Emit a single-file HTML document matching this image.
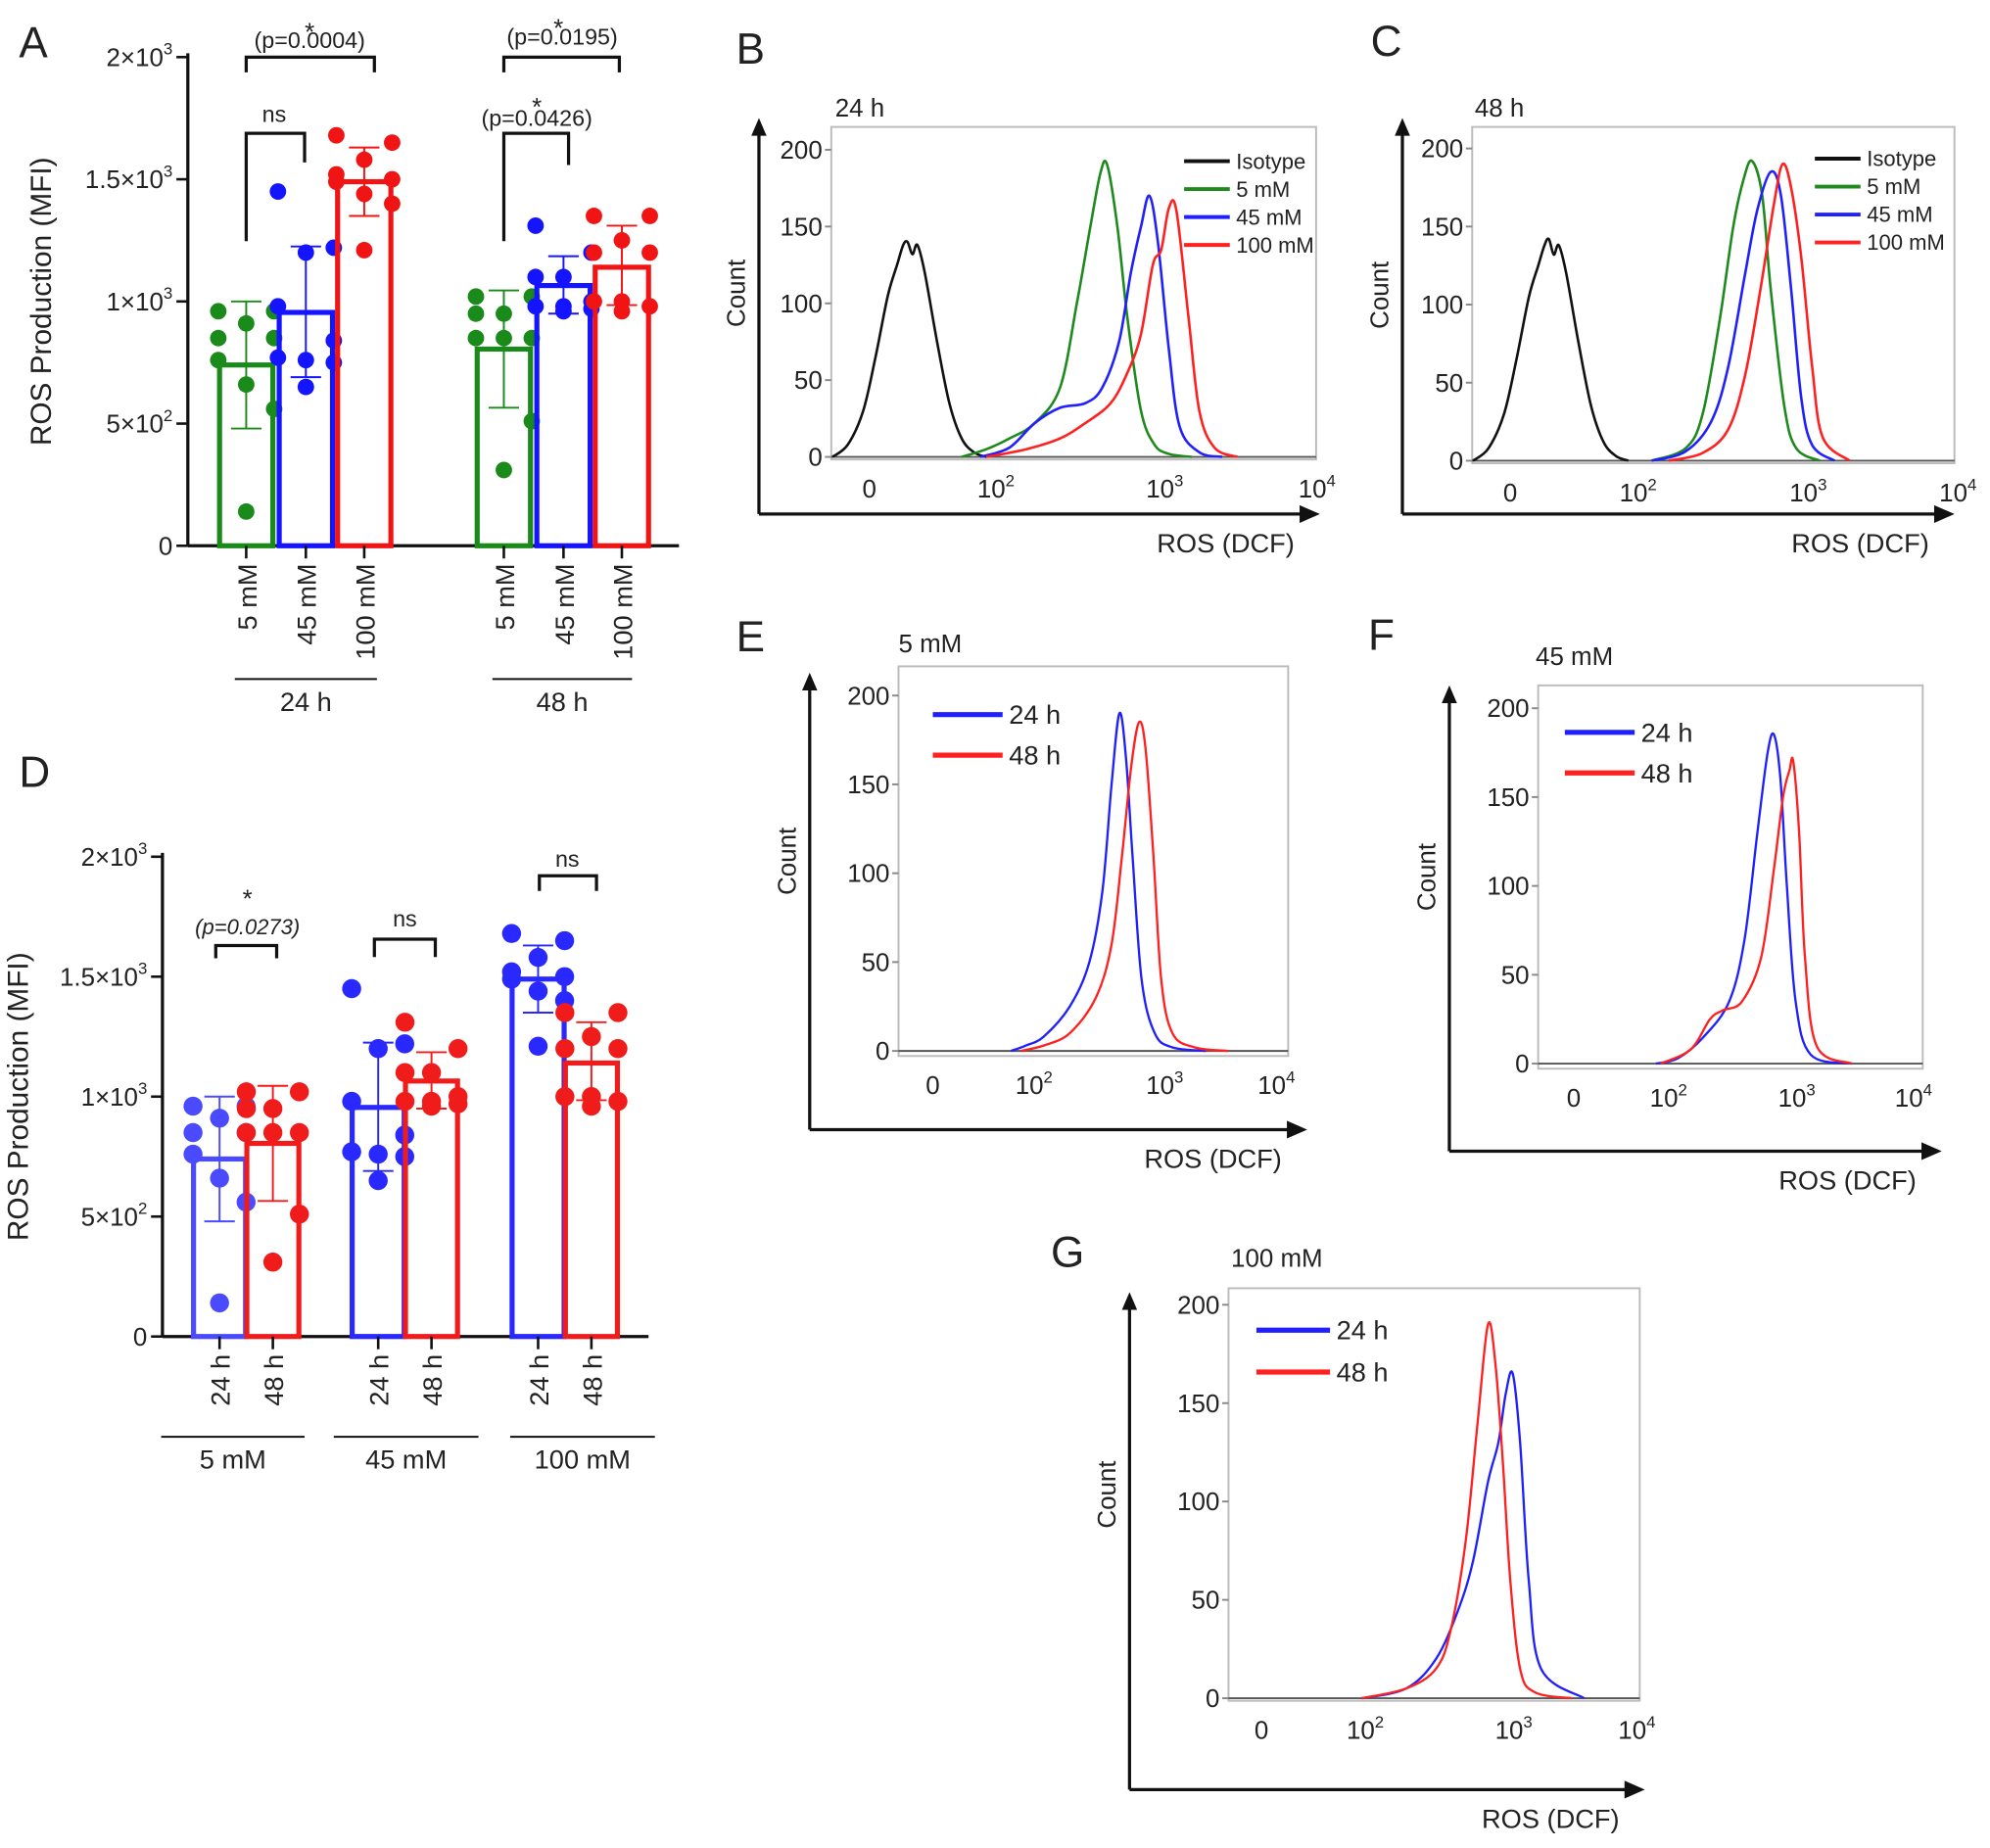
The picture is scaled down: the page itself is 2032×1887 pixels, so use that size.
<!DOCTYPE html>
<html><head><meta charset="utf-8"><style>
html,body{margin:0;padding:0;background:#fff}
svg{display:block;font-family:"Liberation Sans",sans-serif}
</style></head><body>
<svg id="fig" width="2032" height="1887" viewBox="0 0 1568 1456" preserveAspectRatio="none" xmlns="http://www.w3.org/2000/svg"></svg>
<script>
// ---------- Bar chart data (panels A & D) ----------
const concLabels = ["5 mM","45 mM","100 mM"];
const timeLabels = ["24 h","48 h"];
const mean24 = [740, 955, 1490];
const mean48 = [805, 1065, 1140];
const sdLo24 = [480, 690, 1350];
const sdHi24 = [1000, 1225, 1630];
const sdLo48 = [565, 950, 985];
const sdHi48 = [1045, 1185, 1310];
const pts24_5 = [960,960,910,850,850,760,660,560,140];
const pts24_45 = [1450,1220,1200,980,840,770,760,750,650];
const pts24_100 = [1680,1650,1580,1520,1500,1490,1440,1400,1210];
const pts48_5 = [1020,1020,950,950,850,850,850,510,310];
const pts48_45 = [1310,1200,1100,1100,1000,980,980,970,960];
const pts48_100 = [1350,1350,1250,1200,1200,1000,1000,980,960];
const yTickVals = [0,500,1000,1500,2000];
const yTickMant = ["0","5×10","1×10","1.5×10","2×10"];
const yTickExp = ["","2","3","3","3"];
const jitter = [-22,22,0,-22,22,-22,0,22,0];

// ---------- Flow histogram data (x in decade units; 0 = "0" tick) ----------
const B_iso_d = [-0.6,-0.35,-0.1,0.1,0.3,0.45,0.55,0.62,0.7,0.78,0.9,1.1,1.3,1.5,1.7,1.9];
const B_iso_c = [0,8,30,65,105,125,138,140,132,138,120,75,35,12,3,0];
const B_g_d = [1.5,1.9,2.1,2.25,2.4,2.5,2.58,2.64,2.68,2.74,2.8,2.88,2.96,3.05,3.2];
const B_g_c = [0,5,12,22,45,100,150,185,190,150,90,30,8,2,0];
const B_b_d = [1.8,2.1,2.25,2.4,2.55,2.65,2.75,2.82,2.88,2.93,2.98,3.05,3.12,3.25,3.4];
const B_b_c = [0,6,22,32,35,45,75,120,150,170,140,70,20,3,0];
const B_r_d = [1.9,2.2,2.4,2.55,2.7,2.8,2.88,2.95,3.0,3.05,3.1,3.18,3.25,3.35,3.5];
const B_r_c = [0,5,12,22,35,55,80,125,135,162,160,90,30,6,0];
const C_iso_d = [-0.6,-0.35,-0.1,0.1,0.3,0.45,0.55,0.62,0.7,0.78,0.9,1.1,1.3,1.5,1.7,1.9];
const C_iso_c = [0,8,30,65,105,125,138,142,132,138,120,75,35,12,3,0];
const C_g_d = [2.1,2.3,2.4,2.5,2.58,2.64,2.69,2.75,2.8,2.88,2.95,3.1];
const C_g_c = [0,8,30,90,150,180,192,170,110,35,8,0];
const C_b_d = [2.1,2.3,2.45,2.55,2.65,2.72,2.8,2.86,2.92,2.98,3.05,3.2];
const C_b_c = [0,6,25,60,120,160,185,170,110,40,10,0];
const C_r_d = [2.2,2.4,2.55,2.65,2.74,2.82,2.87,2.92,2.98,3.05,3.12,3.3];
const C_r_c = [0,5,20,55,110,165,190,175,130,60,15,0];
const E_b_d = [1.6,1.9,2.1,2.3,2.45,2.55,2.62,2.68,2.73,2.78,2.85,2.95,3.1,3.4];
const E_b_c = [0,3,8,25,50,90,150,190,165,110,40,10,2,0];
const E_r_d = [1.8,2.1,2.3,2.5,2.62,2.7,2.77,2.83,2.88,2.94,3.0,3.1,3.3,3.6];
const E_r_c = [0,3,10,30,60,110,160,185,170,110,40,10,2,0];
const F_b_d = [1.8,2.1,2.3,2.5,2.62,2.72,2.8,2.85,2.9,2.95,3.02,3.15,3.5];
const F_b_c = [0,3,15,35,70,130,175,185,160,100,35,5,0];
const F_r_d = [1.9,2.2,2.35,2.45,2.6,2.75,2.85,2.92,2.97,3.0,3.05,3.1,3.2,3.5];
const F_r_c = [0,8,25,30,35,60,110,150,165,170,130,60,10,0];
const G_b_d = [2.0,2.3,2.5,2.65,2.75,2.85,2.92,2.97,3.02,3.08,3.15,3.25,3.6];
const G_b_c = [0,5,20,45,70,110,130,155,165,130,60,15,0];
const G_r_d = [2.0,2.3,2.5,2.6,2.7,2.78,2.85,2.9,2.95,3.0,3.08,3.2,3.5];
const G_r_c = [0,5,15,35,80,140,190,170,120,60,15,3,0];
const countTicks = [0,50,100,150,200];
const decadeTicks = [0,2,3,4];

const svg = document.getElementById('fig');
const NS = "http://www.w3.org/2000/svg";
function mk(tag, attrs, parent){
  const e = document.createElementNS(NS, tag);
  for (const k in attrs) e.setAttribute(k, attrs[k]);
  (parent||svg).appendChild(e);
  return e;
}
function txt(x,y,s,size,anchor,parent,extra){
  const t = mk('text',Object.assign({x:x,y:y,'font-size':size,'text-anchor':anchor||'middle',fill:'#222'},extra||{}),parent);
  t.textContent = s; return t;
}
function supTxt(x,y,m,e,size,anchor,parent){
  const t = mk('text',{x:x,y:y,'font-size':size,'text-anchor':anchor,fill:'#222'},parent);
  const a = mk('tspan',{},t); a.textContent = m;
  if (e){ const b = mk('tspan',{dy:-size*0.45,'font-size':size*0.65},t); b.textContent = e; }
  return t;
}
function panelLetter(x,y,s){
  const t = txt(x,y,s,34,'start');
  
  
}

// ---------- Bar chart builder ----------
function barChart(cfg){
  const g = mk('g',{});
  
  
  const Y = v => cfg.y0 - (v/2000)*(cfg.y0-cfg.y2000);
  mk('line',{x1:cfg.ax,y1:cfg.y2000-3,x2:cfg.ax,y2:cfg.y0,stroke:'#111','stroke-width':2.5},g);
  mk('line',{x1:cfg.ax,y1:cfg.y0,x2:cfg.axEnd,y2:cfg.y0,stroke:'#111','stroke-width':2.5},g);
  yTickVals.forEach((v,i)=>{
    mk('line',{x1:cfg.ax-9,y1:Y(v),x2:cfg.ax,y2:Y(v),stroke:'#111','stroke-width':2},g);
    supTxt(cfg.ax-12,Y(v)+7,yTickMant[i],yTickExp[i],20,'end',g);
  });
  const yt = txt(0,0,'ROS Production (MFI)',23,'middle',g,{transform:`translate(${cfg.ytx},${(cfg.y0+cfg.y2000)/2}) rotate(-90)`});
  
  
  cfg.bars.forEach((b,i)=>{
    const w = cfg.bw;
    const r = mk('rect',{x:b.cx-w/2,y:Y(b.mean),width:w,height:cfg.y0-Y(b.mean),fill:'none',stroke:b.col,'stroke-width':4},g);
    
    
    mk('line',{x1:b.cx,y1:Y(b.lo),x2:b.cx,y2:Y(b.hi),stroke:b.col,'stroke-width':1.5},g);
    mk('line',{x1:b.cx-12,y1:Y(b.lo),x2:b.cx+12,y2:Y(b.lo),stroke:b.col,'stroke-width':1.5},g);
    mk('line',{x1:b.cx-12,y1:Y(b.hi),x2:b.cx+12,y2:Y(b.hi),stroke:b.col,'stroke-width':1.5},g);
    b.pts.forEach((v,j)=>{
      const c = mk('circle',{cx:b.cx+jitter[j]*cfg.jit,cy:Y(v),r:cfg.pr,fill:b.col},g);
      
      
    });
    mk('line',{x1:b.cx,y1:cfg.y0,x2:b.cx,y2:cfg.y0+10,stroke:'#111','stroke-width':2},g);
    txt(0,0,b.label,21,'end',g,{transform:`translate(${b.cx+8},${cfg.y0+14}) rotate(-90)`});
  });
  cfg.groups.forEach(gr=>{
    mk('line',{x1:gr.x1,y1:gr.y,x2:gr.x2,y2:gr.y,stroke:'#111','stroke-width':1.5},g);
    txt((gr.x1+gr.x2)/2,gr.y+25,gr.label,21,'middle',g);
  });
  cfg.brackets.forEach(br=>{
    mk('path',{d:`M${br.x1},${br.yl} V${br.y} H${br.x2} V${br.yr}`,fill:'none',stroke:'#111','stroke-width':2.5},g);
    if (br.star) txt(br.sx,br.y-br.sd,'*',20,'middle',g);
    txt(br.tx,br.ty,br.text,br.fs||18,'middle',g,br.italic?{'font-style':'italic'}:{});
  });
}

const cA = '#1a8a1a', bA = '#1414ff', rA = '#f01414';
barChart({name:'panel-a-bar-chart',ax:148,axEnd:535,y0:430,y2000:45,ytx:40,bw:42,pr:6.5,jit:1,
  bars:[
    {id:'24h-5mm',cx:194,mean:mean24[0],lo:sdLo24[0],hi:sdHi24[0],pts:pts24_5,col:cA,label:concLabels[0]},
    {id:'24h-45mm',cx:241,mean:mean24[1],lo:sdLo24[1],hi:sdHi24[1],pts:pts24_45,col:bA,label:concLabels[1]},
    {id:'24h-100mm',cx:287,mean:mean24[2],lo:sdLo24[2],hi:sdHi24[2],pts:pts24_100,col:rA,label:concLabels[2]},
    {id:'48h-5mm',cx:397,mean:mean48[0],lo:sdLo48[0],hi:sdHi48[0],pts:pts48_5,col:cA,label:concLabels[0]},
    {id:'48h-45mm',cx:444,mean:mean48[1],lo:sdLo48[1],hi:sdHi48[1],pts:pts48_45,col:bA,label:concLabels[1]},
    {id:'48h-100mm',cx:490,mean:mean48[2],lo:sdLo48[2],hi:sdHi48[2],pts:pts48_100,col:rA,label:concLabels[2]}],
  groups:[{x1:185,x2:297,y:535,label:timeLabels[0]},{x1:388,x2:498,y:535,label:timeLabels[1]}],
  brackets:[
    {x1:194,x2:295,y:45,yl:57,yr:57,star:true,sx:244,sd:13,tx:244,ty:38,text:'(p=0.0004)'},
    {x1:194,x2:240,y:105,yl:190,yr:128,tx:216,ty:96,text:'ns'},
    {x1:397,x2:488,y:45,yl:57,yr:57,star:true,sx:440,sd:16,tx:443,ty:35,text:'(p=0.0195)'},
    {x1:397,x2:448,y:105,yl:190,yr:130,star:true,sx:423,sd:14,tx:423,ty:99,text:'(p=0.0426)'}]
});
const bD = '#2828ff', rD = '#f01c1c';
barChart({name:'panel-d-bar-chart',ax:128,axEnd:511,y0:1053,y2000:675,ytx:22,bw:41,pr:7.5,jit:0.95,
  bars:[
    {id:'5mm-24h',cx:173,mean:mean24[0],lo:sdLo24[0],hi:sdHi24[0],pts:pts24_5,col:'#4a4aff',label:timeLabels[0]},
    {id:'5mm-48h',cx:215,mean:mean48[0],lo:sdLo48[0],hi:sdHi48[0],pts:pts48_5,col:rD,label:timeLabels[1]},
    {id:'45mm-24h',cx:298,mean:mean24[1],lo:sdLo24[1],hi:sdHi24[1],pts:pts24_45,col:bD,label:timeLabels[0]},
    {id:'45mm-48h',cx:340,mean:mean48[1],lo:sdLo48[1],hi:sdHi48[1],pts:pts48_45,col:rD,label:timeLabels[1]},
    {id:'100mm-24h',cx:424,mean:mean24[2],lo:sdLo24[2],hi:sdHi24[2],pts:pts24_100,col:bD,label:timeLabels[0]},
    {id:'100mm-48h',cx:466,mean:mean48[2],lo:sdLo48[2],hi:sdHi48[2],pts:pts48_100,col:rD,label:timeLabels[1]}],
  groups:[{x1:127,x2:240,y:1132,label:concLabels[0]},{x1:263,x2:377,y:1132,label:concLabels[1]},{x1:402,x2:516,y:1132,label:concLabels[2]}],
  brackets:[
    {x1:170,x2:218,y:745,yl:755,yr:755,star:true,sx:195,sd:30,tx:195,ty:736,text:'(p=0.0273)',italic:true,fs:17},
    {x1:295,x2:343,y:740,yl:754,yr:754,tx:319,ty:730,text:'ns'},
    {x1:425,x2:470,y:690,yl:702,yr:702,tx:447,ty:683,text:'ns'}]
});

// ---------- Histogram builder ----------
function smoothPath(pts){
  let d = `M${pts[0][0]},${pts[0][1]}`;
  for (let i=0;i<pts.length-1;i++){
    const p0=pts[Math.max(0,i-1)],p1=pts[i],p2=pts[i+1],p3=pts[Math.min(pts.length-1,i+2)];
    const c1=[p1[0]+(p2[0]-p0[0])/6,p1[1]+(p2[1]-p0[1])/6];
    const c2=[p2[0]-(p3[0]-p1[0])/6,p2[1]-(p3[1]-p1[1])/6];
    d+=` C${c1[0]},${c1[1]} ${c2[0]},${c2[1]} ${p2[0]},${p2[1]}`;
  }
  return d;
}
function histPanel(cfg){
  const g = mk('g',{});
  
  
  const xs = cfg.tickX;
  const X = d => {
    if (d<=2) return xs[0]+(d/2)*(xs[1]-xs[0]);
    if (d<=3) return xs[1]+(d-2)*(xs[2]-xs[1]);
    return xs[2]+(d-3)*(xs[3]-xs[2]);
  };
  const Y = c => cfg.y0-(c/200)*(cfg.y0-cfg.y200);
  mk('rect',{x:cfg.bx1,y:cfg.by1,width:cfg.bx2-cfg.bx1,height:cfg.by2-cfg.by1,fill:'none',stroke:'#bbb','stroke-width':1.5},g);
  mk('line',{x1:cfg.ax,y1:cfg.ay,x2:cfg.ax,y2:cfg.atop+12,stroke:'#111','stroke-width':2.5},g);
  mk('polygon',{points:`${cfg.ax-6},${cfg.atop+14} ${cfg.ax+6},${cfg.atop+14} ${cfg.ax},${cfg.atop}`,fill:'#111'},g);
  mk('line',{x1:cfg.ax,y1:cfg.ay,x2:cfg.aright-14,y2:cfg.ay,stroke:'#111','stroke-width':2.5},g);
  mk('polygon',{points:`${cfg.aright-16},${cfg.ay-7} ${cfg.aright-16},${cfg.ay+7} ${cfg.aright},${cfg.ay}`,fill:'#111'},g);
  countTicks.forEach(c=>{
    mk('line',{x1:cfg.bx1-5,y1:Y(c),x2:cfg.bx1,y2:Y(c),stroke:'#888','stroke-width':1.5},g);
    txt(cfg.bx1-7,Y(c)+7,String(c),20,'end',g);
  });
  decadeTicks.forEach((d,i)=>{
    if (d===0) txt(X(d),cfg.by2+30,'0',20,'middle',g);
    else supTxt(X(d)-12,cfg.by2+30,'10',String(d),20,'start',g);
  });
  txt(0,0,'Count',20,'middle',g,{transform:`translate(${cfg.ax-11},${(cfg.by1+cfg.by2)/2}) rotate(-90)`});
  const xt = txt(cfg.aright-20,cfg.ay+30,'ROS (DCF)',21,'end',g);
  
  
  txt(cfg.titleX,cfg.titleY,cfg.title,20,'start',g);
  mk('line',{x1:cfg.bx1,y1:cfg.y0,x2:cfg.bx2,y2:cfg.y0,stroke:'#555','stroke-width':1.5},g);
  cfg.series.forEach(s=>{
    const pts = s.d.map((d,i)=>[X(d),Y(s.c[i])]);
    const p = mk('path',{d:smoothPath(pts),fill:'none',stroke:s.col,'stroke-width':cfg.lw||2},g);
    
    
  });
  cfg.legend.forEach((l,i)=>{
    const ly = cfg.lg.y+i*cfg.lg.dy;
    mk('line',{x1:cfg.lg.x,y1:ly,x2:cfg.lg.x+cfg.lg.len,y2:ly,stroke:l.col,'stroke-width':cfg.lg.w},g);
    const t = txt(cfg.lg.x+cfg.lg.len+5,ly+cfg.lg.fs*0.35,l.label,cfg.lg.fs,'start',g);
    
    
  });
}
const K='#111', Gc='#1e8a1e', Bc='#2020ff', Rc='#ff2020';
const legend4=[{label:'Isotype',col:K},{label:'5 mM',col:Gc},{label:'45 mM',col:Bc},{label:'100 mM',col:Rc}];
const legend2=[{label:'24 h',col:Bc},{label:'48 h',col:Rc}];
histPanel({name:'panel-b-histogram',title:'24 h',titleX:658,titleY:92,bx1:655,by1:100,bx2:1037,by2:362,y0:360,y200:118,
  tickX:[685,782,915,1035],ax:598,ay:405,atop:93,aright:1040,
  series:[{id:'isotype',d:B_iso_d,c:B_iso_c,col:K},{id:'5mm',d:B_g_d,c:B_g_c,col:Gc},{id:'45mm',d:B_b_d,c:B_b_c,col:Bc},{id:'100mm',d:B_r_d,c:B_r_c,col:Rc}],
  legend:legend4,lg:{x:933,y:127,dy:22,len:36,w:3,fs:17}});
histPanel({name:'panel-c-histogram',title:'48 h',titleX:1162,titleY:92,bx1:1160,by1:100,bx2:1540,by2:365,y0:363,y200:117,
  tickX:[1190,1288,1422,1540],ax:1105,ay:405,atop:93,aright:1540,
  series:[{id:'isotype',d:C_iso_d,c:C_iso_c,col:K},{id:'5mm',d:C_g_d,c:C_g_c,col:Gc},{id:'45mm',d:C_b_d,c:C_b_c,col:Bc},{id:'100mm',d:C_r_d,c:C_r_c,col:Rc}],
  legend:legend4,lg:{x:1430,y:125,dy:22,len:36,w:3,fs:17}});
histPanel({name:'panel-e-histogram',title:'5 mM',titleX:708,titleY:514,bx1:708,by1:525,bx2:1015,by2:832,y0:828,y200:548,
  tickX:[735,812,915,1003],ax:638,ay:890,atop:530,aright:1030,lw:1.8,
  series:[{id:'24h',d:E_b_d,c:E_b_c,col:Bc},{id:'48h',d:E_r_d,c:E_r_c,col:Rc}],
  legend:legend2,lg:{x:735,y:563,dy:32,len:55,w:4,fs:21}});
histPanel({name:'panel-f-histogram',title:'45 mM',titleX:1210,titleY:524,bx1:1212,by1:540,bx2:1515,by2:842,y0:838,y200:558,
  tickX:[1240,1312,1413,1505],ax:1142,ay:907,atop:540,aright:1530,lw:1.8,
  series:[{id:'24h',d:F_b_d,c:F_b_c,col:Bc},{id:'48h',d:F_r_d,c:F_r_c,col:Rc}],
  legend:legend2,lg:{x:1233,y:577,dy:32,len:55,w:4,fs:21}});
histPanel({name:'panel-g-histogram',title:'100 mM',titleX:970,titleY:998,bx1:968,by1:1015,bx2:1292,by2:1340,y0:1338,y200:1028,
  tickX:[994,1073,1190,1287],ax:890,ay:1410,atop:1018,aright:1296,lw:1.8,
  series:[{id:'24h',d:G_b_d,c:G_b_c,col:Bc},{id:'48h',d:G_r_d,c:G_r_c,col:Rc}],
  legend:legend2,lg:{x:990,y:1048,dy:33,len:58,w:4,fs:21}});

panelLetter(15,45,'A'); panelLetter(580,50,'B'); panelLetter(1080,44,'C');
panelLetter(15,620,'D'); panelLetter(580,513,'E'); panelLetter(1078,512,'F'); panelLetter(828,998,'G');
</script>
</body></html>
